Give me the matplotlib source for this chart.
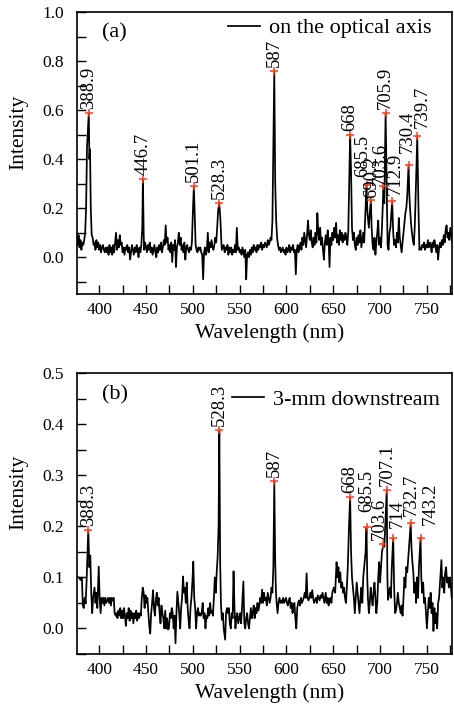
import matplotlib
matplotlib.use("Agg")
import matplotlib.pyplot as plt
from matplotlib.ticker import MultipleLocator, FormatStrFormatter

plt.rcParams['font.family'] = ['Liberation Serif', 'DejaVu Serif']
plt.rcParams['axes.unicode_minus'] = False

# ---------------- data: panel (a) on the optical axis ----------------
wl_a = [375, 376, 377, 378, 379, 380, 381, 382, 383, 384, 385, 386, 387, 388.9, 389.5, 390.2,
        391, 392, 393, 394, 395, 396, 397, 398, 399, 400, 401, 402, 403, 404, 405, 406, 407,
        408, 409, 410, 411, 412, 413, 414, 415, 416, 417, 418, 419, 420, 421, 422, 423, 424,
        425, 426, 427, 428, 429, 430, 431, 432, 433, 434, 435, 436, 437, 438, 439, 440, 441,
        442, 443, 444, 445, 446, 446.7, 447.5, 448, 449, 450, 451, 452, 453, 454, 455, 456,
        457, 458, 459, 460, 461, 462, 463, 464, 465, 466, 467, 468, 469, 470, 471, 472, 473,
        474, 475, 476, 477, 478, 479, 480, 481, 482, 483, 484, 485, 486, 487, 488, 489, 490,
        491, 492, 493, 494, 495, 496, 497, 498, 499, 500, 501.1, 502, 503, 504, 505, 506, 507,
        508, 509, 510, 511, 512, 513, 514, 515, 516, 517, 518, 519, 520, 521, 522, 523, 524,
        525, 526, 527, 528.3, 529.5, 530.5, 531, 532, 533, 534, 535, 536, 537, 538, 539, 540,
        541, 542, 543, 544, 545, 546, 547, 548, 549, 550, 551, 552, 553, 554, 555, 556, 557,
        558, 559, 560, 561, 562, 563, 564, 565, 566, 567, 568, 569, 570, 571, 572, 573, 574,
        575, 576, 577, 578, 579, 580, 581, 582, 583, 584, 585, 586, 587, 588, 589, 590, 591,
        592, 593, 594, 595, 596, 597, 598, 599, 600, 601, 602, 603, 604, 605, 606, 607, 608,
        609, 610, 611, 612, 613, 614, 615, 616, 617, 618, 619, 620, 621, 622, 623, 624, 625,
        626, 627, 628, 629, 630, 631, 632, 633, 634, 635, 636, 637, 638, 639, 640, 641, 642,
        643, 644, 645, 646, 647, 648, 649, 650, 651, 652, 653, 654, 655, 656, 657, 658, 659,
        660, 661, 662, 663, 664, 665, 666, 667, 668, 669, 670, 671, 672, 673, 674, 675, 676,
        677, 678, 679, 680, 681, 682, 683, 684, 685.5, 686.5, 688, 689, 690.2, 691, 692, 693,
        694, 695, 696, 697, 698, 699, 700, 701, 702, 703.6, 704.5, 705.9, 707, 708, 709, 710,
        711, 712.9, 714, 715, 716, 717, 718, 719, 720, 721, 722, 723, 724, 725, 726, 727, 728,
        729, 730.4, 731.3, 732, 733, 734, 735, 736, 737, 738, 739.7, 741, 742, 743, 744, 745,
        746, 747, 748, 749, 750, 751, 752, 753, 754, 755, 756, 757, 758, 759, 760, 761, 762,
        763, 764, 765, 766, 767, 768, 769, 770, 771, 772, 773, 774, 775, 776, 777]
int_a = [0.08, 0.10, 0.05, 0.09, 0.04, 0.07, 0.03, 0.06, 0.05, 0.07, 0.10, 0.20, 0.45, 0.59, 0.40, 0.44,
         0.20, 0.09, 0.08, 0.05, 0.06, 0.03, 0.07, 0.04, 0.06, 0.03, 0.05, 0.02, 0.04, 0.05, 0.03, 0.02, 0.04,
         0.02, 0.04, 0.01, 0.05, 0.02, 0.04, 0.01, 0.05, 0.02, 0.06, 0.10, 0.03, 0.07, 0.04, 0.09, 0.05, 0.06,
         0.02, 0.04, 0.01, 0.04, 0.03, 0.05, 0.02, 0.04, -0.01, 0.02, 0.05, 0.03, 0.01, 0.04, 0.02, 0.05, 0.03,
         0.00, 0.04, 0.02, 0.05, 0.12, 0.32, 0.10, 0.03, 0.06, 0.04, 0.02, 0.05, 0.03, 0.06, 0.02, 0.04,
         0.01, 0.03, 0.05, 0.02, 0.00, 0.04, 0.02, 0.05, 0.03, 0.06, 0.02, 0.04, 0.07, 0.05, 0.13, 0.06, 0.08,
         0.03, 0.05, 0.02, 0.06, -0.02, 0.05, 0.03, 0.07, -0.04, 0.04, 0.06, 0.10, 0.05, 0.08, 0.03, 0.05, 0.02,
         0.06, -0.01, 0.04, 0.05, 0.03, 0.02, 0.04, 0.03, 0.06, 0.18, 0.29, 0.17, 0.05, 0.03, 0.02, 0.04, 0.03,
         0.04, 0.02, 0.01, -0.09, 0.02, 0.04, 0.01, 0.03, 0.10, 0.02, 0.06, 0.04, 0.07, 0.04, 0.03, 0.05, 0.08,
         0.06, 0.12, 0.19, 0.22, 0.15, 0.06, 0.03, 0.04, 0.05, 0.02, 0.04, 0.03, 0.05, 0.01, 0.04, 0.02,
         0.04, 0.01, 0.03, 0.02, 0.05, 0.02, 0.12, 0.03, 0.04, 0.02, 0.03, 0.01, 0.04, 0.02, 0.00, 0.03, -0.09,
         0.01, 0.02, 0.00, 0.03, 0.01, 0.04, 0.02, 0.05, 0.03, 0.04, 0.02, 0.05, 0.03, 0.05, 0.04, 0.06, 0.03,
         0.05, 0.04, 0.06, 0.05, 0.04, 0.07, 0.05, 0.06, 0.08, 0.07, 0.15, 0.45, 0.76, 0.30, 0.15, 0.08, 0.05,
         0.03, 0.04, 0.02, 0.03, 0.04, 0.02, 0.03, 0.01, 0.04, 0.02, 0.03, 0.05, 0.02, 0.04, 0.03, 0.05, 0.02,
         0.03, -0.07, 0.03, 0.05, 0.02, 0.04, 0.06, 0.03, 0.08, 0.05, 0.10, 0.07, 0.04, 0.09, 0.15, 0.09, 0.07,
         0.11, 0.06, 0.04, 0.08, 0.05, 0.10, 0.06, 0.18, 0.10, 0.07, 0.12, 0.05, 0.08, 0.03, -0.01, 0.06, 0.09,
         0.05, 0.11, 0.07, -0.04, 0.08, 0.05, 0.10, 0.07, 0.12, 0.08, 0.14, 0.06, 0.09, 0.05, 0.11, 0.07, 0.10,
         0.06, 0.09, 0.07, 0.10, 0.08, 0.05, 0.10, 0.30, 0.50, 0.35, 0.12, 0.07, 0.10, 0.05, 0.03, 0.08, 0.05,
         0.09, 0.06, 0.11, 0.04, 0.07, 0.10, 0.06, 0.15, 0.295, 0.18, 0.12, 0.18, 0.235, 0.12, 0.05, 0.03,
         0.08, 0.01, 0.06, 0.10, 0.15, 0.05, 0.08, 0.04, 0.12, 0.29, 0.22, 0.59, 0.30, 0.05, 0.03, 0.10,
         0.12, 0.23, 0.10, 0.05, 0.07, 0.04, 0.10, 0.06, 0.16, 0.08, 0.05, 0.02, 0.06, 0.10, 0.14, 0.18, 0.20,
         0.25, 0.377, 0.25, 0.20, 0.14, 0.10, 0.07, 0.05, 0.12, 0.25, 0.493, 0.20, 0.03, 0.04, 0.03, 0.05,
         0.04, 0.06, 0.03, 0.05, 0.04, 0.07, 0.04, 0.06, 0.05, 0.02, 0.06, 0.04, 0.07, 0.05, 0.02, 0.05, -0.01,
         0.04, 0.06, 0.04, 0.07, 0.05, 0.09, 0.06, 0.11, 0.13, 0.08, 0.10, 0.07, 0.12, 0.09, 0.06]

peaks_a = [388.9, 446.7, 501.1, 528.3, 587, 668, 685.5, 690.2, 703.6, 705.9, 712.9, 730.4, 739.7]
peak_labels_a = ['388.9', '446.7', '501.1', '528.3', '587', '668', '685.5', '690.2', '703.6',
                 '705.9', '712.9', '730.4', '739.7']

# ---------------- data: panel (b) 3-mm downstream ----------------
wl_b = [377, 378.5, 380, 381.5, 382.5, 383.5, 384.5, 385.5, 386.5, 388.3, 389.5, 390.5, 391.5, 392.5,
        393.5, 395, 396, 397, 398, 399.5, 400.5, 401.5, 402.5, 403.5, 404.5, 405.5, 406.5, 407.5,
        408.5, 409.5, 410.5, 411.5, 412.5, 413.5, 414.5, 415.5, 416.5, 417.5, 418.5, 419.5, 420.5,
        421.5, 422.5, 423.5, 424.5, 425.5, 426.5, 427.5, 428.5, 429.5, 430.5, 431.5, 432.5, 433.5,
        434.5, 435.5, 436.5, 437.5, 438.5, 439.5, 440.5, 441.5, 442.5, 443.5, 444.5, 445.5, 446.5,
        447.5, 448.5, 449.5, 450.5, 451.5, 452.5, 453.5, 454.5, 455.5, 456.5, 457.5, 458.5, 459.5,
        460.5, 461.5, 462.5, 463.5, 464.5, 465.5, 466.5, 467.5, 468.5, 469.5, 470.5, 471.5, 472.5,
        473.5, 474.5, 475.5, 476.5, 477.5, 478.5, 479.5, 480.5, 481.5, 482.5, 483.5, 484.5, 485.5,
        486.5, 487.5, 488.5, 489.5, 490.5, 491.5, 492.5, 493.5, 494.5, 495.5, 496.5, 497.5, 498.5,
        499.5, 500.5, 501.5, 502.5, 503.5, 504.5, 505.5, 506.5, 507.5, 508.5, 509.5, 510.5, 511.5,
        512.5, 513.5, 514.5, 515.5, 516.5, 517.5, 518.5, 519.5, 520.5, 521.5, 522.5, 523.5, 524.5,
        525.5, 526.5, 527.5, 528.3, 529.2, 530, 531, 532, 533, 534.5, 535.5, 536.5, 537.5, 538.5,
        539.5, 540.5, 541.5, 542.5, 543.5, 544.5, 545.5, 546.5, 547.5, 548.5, 549.5, 550.5, 551.5,
        552.5, 554, 555, 556, 557, 558, 559, 560, 561, 562, 563, 564, 565, 566, 567, 568, 569, 570,
        571, 572, 573, 574, 575, 576, 577, 578, 579, 580, 581, 582, 583, 584, 585, 586, 587, 588,
        588.8, 589.5, 590.5, 591.5, 592.5, 593.5, 594.5, 595.5, 596.5, 597.5, 598.5, 599.5, 600.5,
        601.5, 602.5, 603.5, 604.5, 605.5, 606.5, 607.5, 608.5, 609.5, 610.5, 611.5, 612.5, 613.5,
        614.5, 615.5, 616.5, 617.5, 618.5, 619.5, 620.5, 621.5, 622.5, 623.5, 624.5, 625.5, 626.5,
        627.5, 628.5, 629.5, 630.5, 631.5, 632.5, 633.5, 634.5, 635.5, 636.5, 637.5, 638.5, 639.5,
        640.5, 641.9, 643, 644, 645, 646, 647, 648, 649, 650.5, 652, 653.5, 654.5, 655.5, 656.5,
        657.5, 658.5, 659.5, 660.5, 661.5, 662.5, 663.5, 664.5, 665.5, 666.8, 668, 669, 670, 671,
        672, 673, 674, 675, 676, 677, 678, 679, 680, 681, 682, 683, 684.5, 685.5, 686.3, 687, 688,
        689, 690, 691, 692, 693, 694, 695, 696, 697, 698, 699, 700, 701, 702, 703.6, 704.5, 705.5,
        707.1, 707.8, 708.5, 709.5, 710.5, 711.5, 712.5, 714, 715, 716, 717, 718, 719, 720, 721, 722,
        723, 724, 725, 726, 727, 728, 729, 730.5, 732.7, 733.5, 734.5, 735.5, 736.5, 737.5, 738.5,
        739.5, 740.5, 741.5, 743.2, 744, 745, 746, 747, 748, 749, 750, 751, 752, 753, 754, 755, 756,
        757, 758, 759, 760, 761, 762, 763, 764, 765.5, 766.5, 767.5, 768.5, 769.5, 770.5, 771.5,
        772.5, 773.5, 774.5, 775.5, 776.5]
int_b = [0.10, 0.10, 0.095, 0.10, 0.045, 0.04, 0.06, 0.05, 0.09, 0.193, 0.12, 0.143, 0.07, 0.03,
         0.06, 0.08, 0.05, 0.07, 0.04, 0.121, 0.06, 0.03, 0.06, 0.05, 0.06, 0.045, 0.06, 0.05,
         0.055, 0.06, 0.05, 0.06, 0.045, 0.06, 0.055, 0.06, 0.03, 0.025, 0.03, 0.02, 0.035,
         0.025, 0.04, 0.02, 0.035, 0.02, 0.04, 0.025, 0.005, 0.03, 0.02, 0.04, 0.015, 0.035,
         0.02, 0.03, 0.01, 0.03, 0.02, 0.035, 0.015, 0.03, 0.02, 0.03, 0.025, 0.06, 0.08,
         0.07, 0.04, 0.065, 0.05, 0.06, 0.03, 0.005, -0.01, 0.03, 0.05, 0.075, 0.04, 0.025,
         0.055, 0.07, 0.045, 0.06, 0.03, 0.01, 0.045, 0.03, 0.02, 0.0, 0.035, 0.0, 0.02,
         -0.002, 0.0, 0.03, 0.02, 0.04, 0.03, 0.0, 0.025, -0.029, 0.03, 0.072, 0.05, 0.03,
         0.0, 0.04, 0.06, 0.102, 0.07, 0.08, 0.05, 0.09, 0.04, 0.015, 0.0, 0.04, 0.06,
         0.09, 0.131, 0.06, 0.04, 0.0, 0.03, 0.04, 0.025, 0.03, 0.025, 0.03, 0.05, 0.02,
         0.03, 0.0, 0.025, 0.02, 0.04, 0.025, 0.05, 0.03, 0.035, 0.025, 0.06, 0.10, 0.07,
         0.11, 0.14, 0.20, 0.389, 0.13, 0.05, 0.017, 0.03, 0.0, -0.022, 0.03, 0.04, 0.03, 0.04,
         0.01, 0.0, 0.03, 0.02, 0.112, 0.04, 0.0, 0.02, 0.03, 0.01, 0.02, 0.03, 0.01,
         0.04, 0.092, 0.01, 0.0, 0.02, 0.03, 0.01, 0.0, 0.02, 0.04, 0.02, 0.03, 0.045, 0.02, 0.04, 0.03, 0.05, 0.035,
         0.045, 0.06, 0.05, 0.076, 0.05, 0.07, 0.055, 0.06, 0.045, 0.07, 0.06, 0.05, 0.06, 0.08, 0.07, 0.12, 0.289, 0.13,
         0.07, 0.05, 0.03, 0.05, 0.06, 0.05, 0.055, 0.05, 0.06, 0.05, 0.055, 0.06, 0.05,
         0.045, 0.055, 0.06, 0.04, 0.05, 0.03, 0.045, 0.05, 0.02, 0.0, 0.04, 0.05, 0.055,
         0.045, 0.06, 0.05, 0.055, 0.06, 0.07, 0.06, 0.108, 0.06, 0.055, 0.06, 0.07, 0.06,
         0.075, 0.06, 0.05, 0.055, 0.06, 0.05, 0.065, 0.06, 0.055, 0.065, 0.06, 0.07, 0.06,
         0.05, 0.07, 0.05, 0.06, 0.045, 0.055, 0.06, 0.05, 0.07, 0.08, 0.07, 0.13, 0.10, 0.12, 0.09,
         0.11, 0.08, 0.09, 0.07, 0.08, 0.06, 0.05, 0.08, 0.12, 0.20, 0.257, 0.15, 0.10, 0.08,
         0.06, 0.03, 0.06, 0.09, 0.07, 0.05, 0.03, 0.06, 0.08, 0.05, 0.10, 0.12, 0.15, 0.198, 0.10, 0.06, 0.03,
         0.05, 0.08, 0.06, 0.045, 0.07, 0.09, 0.06, 0.03, 0.05, 0.10, 0.13, 0.09, 0.12, 0.15, 0.165, 0.16, 0.20,
         0.272, 0.10, 0.056, 0.07, 0.08, 0.06, 0.12, 0.178, 0.08, 0.03, 0.035, 0.05, 0.07, 0.05, 0.04, 0.03,
         0.045, 0.025, 0.06, 0.10, 0.08, 0.12, 0.11, 0.15, 0.206, 0.16, 0.13, 0.11, 0.07, 0.09, 0.05,
         0.10, 0.06, 0.12, 0.178, 0.10, 0.07, 0.09, 0.05, 0.06, 0.03, 0.0, 0.03, 0.06, 0.04, 0.07, 0.03, 0.05,
         -0.005, 0.04, 0.01, 0.03, 0.0, 0.05, 0.06, 0.09, 0.134, 0.08, 0.10, 0.07, 0.11, 0.12, 0.09,
         0.10, 0.08, 0.10, 0.085, 0.06]

peaks_b = [388.3, 528.3, 587, 668, 685.5, 703.6, 707.1, 714, 732.7, 743.2]
peak_labels_b = ['388.3', '528.3', '587', '668', '685.5', '703.6', '707.1', '714', '732.7', '743.2']

legend_a = 'on the optical axis'
legend_b = '3-mm downstream'
xlabel = 'Wavelength (nm)'
ylabel = 'Intensity'

# ---------------- style ----------------
# label offsets (pixels) for crowded peak annotations: (dx, dy)
offs_a = {'685.5': (-4, 8), '690.2': (1, 2), '703.6': (-3, 1), '712.9': (3, 6),
          '730.4': (-1, 12), '739.7': (5, 8)}
offs_b = {'685.5': (0, 15), '703.6': (-4, 4), '707.1': (1, 4), '714': (4, 10),
          '732.7': (1, 7), '743.2': (10, 13)}
default_off = (0, 4)
RED = '#ff3c1e'

fig = plt.figure(figsize=(4.54, 7.11), dpi=100)
ax_a = fig.add_axes([0.169, 0.5865, 0.827, 0.3966])
ax_b = fig.add_axes([0.169, 0.0802, 0.827, 0.3948])


def draw(ax, wl, inten, peaks, labels, offs, legend_txt, tag, ylim, ymaj, ymin, tagy, leg_anchor):
    ax.plot(wl, inten, color='black', lw=1.25, label=legend_txt)
    lookup = dict(zip(wl, inten))
    pv = [lookup[p] for p in peaks]
    ax.plot(peaks, pv, linestyle='none', marker='+', color=RED, ms=6, mew=1.1)
    for p, v, lab in zip(peaks, pv, labels):
        dx, dy = offs.get(lab, default_off)
        ax.annotate(lab, (p, v), xytext=(dx, dy), textcoords='offset pixels',
                    rotation=90, ha='center', va='bottom', fontsize=13.5)
    ax.set_xlim(376, 777)
    ax.set_ylim(*ylim)
    ax.xaxis.set_major_locator(MultipleLocator(50))
    ax.xaxis.set_minor_locator(MultipleLocator(25))
    ax.yaxis.set_major_locator(MultipleLocator(ymaj))
    ax.yaxis.set_minor_locator(MultipleLocator(ymin))
    ax.yaxis.set_major_formatter(FormatStrFormatter('%.1f'))
    ax.tick_params(which='both', direction='in', length=6.5, width=1, top=False, right=False,
                   labelsize=12.5)
    ax.tick_params(axis='x', pad=6)
    ax.tick_params(axis='y', pad=9)
    for s in ax.spines.values():
        s.set_linewidth(1.2)
    ax.set_xlabel(xlabel, fontsize=15.5)
    ax.set_ylabel(ylabel, fontsize=15.5)
    ax.xaxis.set_label_coords(0.515, -0.103)
    ax.yaxis.set_label_coords(-0.128, 0.574)
    ax.text(0.066, tagy, tag, transform=ax.transAxes, fontsize=16, va='center', ha='left')
    ax.legend(loc='center left', bbox_to_anchor=leg_anchor, frameon=False, fontsize=16,
              handlelength=1.45, handletextpad=0.4, borderpad=0, borderaxespad=0)


draw(ax_a, wl_a, int_a, peaks_a, peak_labels_a, offs_a, legend_a, '(a)', (-0.15, 1.0), 0.2, 0.1,
     0.926, (0.403, 0.943))
draw(ax_b, wl_b, int_b, peaks_b, peak_labels_b, offs_b, legend_b, '(b)', (-0.05, 0.5), 0.1, 0.05,
     0.923, (0.414, 0.907))

fig.savefig('out.png', dpi=100)
